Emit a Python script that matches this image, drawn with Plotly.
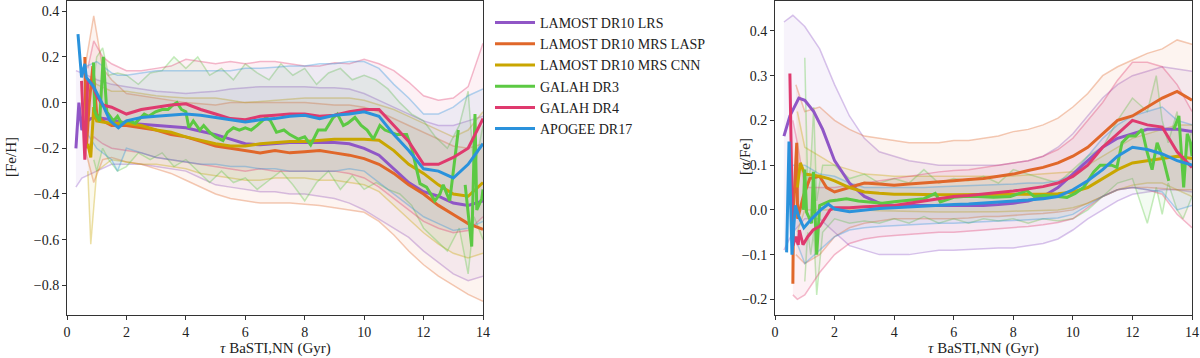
import plotly.graph_objects as go

# ---------------- data ----------------
AGE_GRID = [2.0, 2.5, 3.0, 3.5, 4.0, 4.5, 5.0, 5.5, 6.0, 6.5, 7.0, 7.5, 8.0, 8.5,
            9.0, 9.5, 10.0, 10.5, 11.0, 11.5, 12.0, 12.5, 13.0, 13.5, 14.0]

SURVEYS = ["LAMOST DR10 LRS", "LAMOST DR10 MRS LASP", "LAMOST DR10 MRS CNN",
           "GALAH DR3", "GALAH DR4", "APOGEE DR17"]
COLORS = ["#9056c6", "#e0672a", "#c9a600", "#5cc943", "#df3a6e", "#2a92dc"]

# ---- [Fe/H] panel ----
# LAMOST DR10 LRS
feh_lrs_x = [0.3, 0.4, 0.5, 0.6, 0.8, 1.0, 1.5] + AGE_GRID
feh_lrs_med = [-0.2, 0.0, -0.12, -0.09, -0.07, -0.065, -0.075,
               -0.09, -0.095, -0.1, -0.105, -0.11, -0.125, -0.14, -0.16, -0.18, -0.185, -0.18, -0.175, -0.175,
               -0.175, -0.175, -0.18, -0.2, -0.23, -0.29, -0.35, -0.39, -0.41, -0.44, -0.45, -0.43]
feh_lrs_bx = [0.3, 0.5, 1.0, 1.5] + AGE_GRID
feh_lrs_hi = [0.14, 0.13, 0.1, 0.08,
              0.07, 0.06, 0.05, 0.045, 0.04, 0.045, 0.05, 0.06, 0.065, 0.07, 0.07, 0.07, 0.07, 0.065,
              0.065, 0.06, 0.04, 0.01, -0.02, -0.05, -0.08, -0.1, -0.1, -0.08, -0.06]
feh_lrs_lo = [-0.37, -0.33, -0.3, -0.27,
              -0.27, -0.27, -0.28, -0.29, -0.3, -0.33, -0.36, -0.37, -0.38, -0.39, -0.39, -0.4, -0.4, -0.41,
              -0.42, -0.44, -0.47, -0.51, -0.55, -0.59, -0.65, -0.7, -0.75, -0.78, -0.76]

# LAMOST DR10 MRS LASP
feh_lasp_x = [0.6, 0.65, 0.75, 0.87, 1.0, 1.2, 1.5] + AGE_GRID
feh_lasp_med = [0.2, -0.2, 0.0, 0.16, -0.05, -0.08, -0.1,
                -0.1, -0.11, -0.12, -0.14, -0.15, -0.17, -0.19, -0.2, -0.21, -0.22, -0.21, -0.22, -0.215,
                -0.21, -0.22, -0.23, -0.245, -0.27, -0.31, -0.36, -0.4, -0.45, -0.49, -0.53, -0.555]
feh_lasp_bx = [0.6, 0.9, 1.2, 1.5] + AGE_GRID
feh_lasp_hi = [0.15, 0.38, 0.15, 0.1,
               0.04, 0.03, 0.02, 0.01, 0.0, -0.005, -0.01, 0.0, 0.0, 0.0, 0.0, 0.0, 0.0, -0.005,
               -0.01, -0.01, -0.02, -0.04, -0.07, -0.1, -0.13, -0.16, -0.19, -0.2, -0.18]
feh_lasp_lo = [-0.2, -0.35, -0.25, -0.24,
               -0.26, -0.27, -0.29, -0.31, -0.34, -0.37, -0.4, -0.42, -0.43, -0.44, -0.44, -0.44, -0.445, -0.45,
               -0.46, -0.47, -0.48, -0.52, -0.58, -0.65, -0.71, -0.76, -0.8, -0.84, -0.87]

# LAMOST DR10 MRS CNN
feh_cnn_x = [0.7, 0.8, 0.9, 1.0, 1.2, 1.5] + AGE_GRID
feh_cnn_med = [-0.18, -0.24, -0.02, -0.08, -0.085, -0.09,
               -0.09, -0.1, -0.12, -0.13, -0.15, -0.165, -0.18, -0.19, -0.19, -0.18, -0.175, -0.17, -0.17,
               -0.165, -0.16, -0.16, -0.16, -0.165, -0.21, -0.27, -0.31, -0.36, -0.4, -0.41, -0.35]
feh_cnn_bx = [0.7, 0.8, 1.0, 1.5] + AGE_GRID
feh_cnn_hi = [0.05, 0.1, 0.08, 0.05,
              0.05, 0.04, 0.03, 0.025, 0.02, 0.02, 0.02, 0.01, 0.0, 0.005, 0.01, 0.015, 0.02, 0.02,
              0.02, 0.02, 0.01, -0.01, -0.03, -0.06, -0.09, -0.12, -0.15, -0.12, -0.04]
feh_cnn_lo = [-0.3, -0.62, -0.3, -0.25,
              -0.26, -0.27, -0.27, -0.28, -0.29, -0.31, -0.32, -0.33, -0.34, -0.34, -0.33, -0.33, -0.33, -0.34,
              -0.34, -0.35, -0.36, -0.39, -0.45, -0.51, -0.57, -0.62, -0.66, -0.68, -0.66]

# GALAH DR3
feh_dr3_x = [0.89, 0.93, 1.0, 1.1, 1.22, 1.34, 1.56, 1.7, 1.83, 2.06, 2.3, 2.6, 2.75, 2.98, 3.2, 3.4,
             3.57, 3.7, 3.85, 4.0, 4.1, 4.25, 4.47, 4.6, 4.8, 5.0, 5.25, 5.4, 5.6, 5.8, 6.0, 6.2, 6.4,
             6.7, 6.85, 7.05, 7.3, 7.5, 7.78, 8.0, 8.2, 8.45, 8.7, 8.96, 9.1, 9.3, 9.45, 9.69, 9.9,
             10.1, 10.31, 10.53, 10.7, 10.87, 11.1, 11.43, 11.6, 11.88, 12.1, 12.38, 12.55, 12.66,
             12.88, 13.17, 13.2, 13.4, 13.62, 13.73, 13.79, 13.96, 14.0]
feh_dr3_med = [0.176, -0.035, -0.06, -0.08, 0.2, -0.04, -0.08, -0.06, -0.09, -0.08, -0.09, -0.05, -0.06,
               -0.04, -0.03, -0.03, -0.01, 0.0, -0.03, -0.04, -0.11, -0.08, -0.12, -0.1, -0.13, -0.15,
               -0.166, -0.13, -0.11, -0.12, -0.11, -0.12, -0.1, -0.065, -0.08, -0.13, -0.12, -0.14,
               -0.16, -0.15, -0.185, -0.12, -0.12, -0.065, -0.05, -0.1, -0.09, -0.065, -0.1, -0.12,
               -0.16, -0.1, -0.12, -0.13, -0.14, -0.14, -0.2, -0.355, -0.37, -0.43, -0.4, -0.36,
               -0.43, -0.12, None, -0.36, -0.63, -0.05, -0.47, -0.42, -0.38]
feh_dr3_bx = [0.9, 1.0, 1.2, 1.4, 1.7, 2.0, 2.4, 2.8, 3.2, 3.6, 4.0, 4.4, 4.8, 5.2, 5.6, 6.0, 6.4,
              6.8, 7.2, 7.6, 8.0, 8.4, 8.8, 9.2, 9.6, 10.0, 10.4, 10.8, 11.2, 11.6, 12.0, 12.4, 12.8,
              13.2, 13.5, 13.7, 14.0]
feh_dr3_hi = [0.1, 0.2, 0.24, 0.12, 0.13, 0.12, 0.08, 0.13, 0.14, 0.2, 0.15, 0.2, 0.12, 0.15, 0.1,
              0.17, 0.13, 0.1, 0.17, 0.12, 0.15, 0.08, 0.13, 0.15, 0.1, 0.12, 0.1, 0.06, 0.0, -0.05,
              -0.08, -0.15, -0.2, -0.1, 0.05, -0.3, -0.1]
feh_dr3_lo = [-0.25, -0.3, -0.2, -0.25, -0.3, -0.28, -0.22, -0.25, -0.22, -0.28, -0.25, -0.3, -0.35,
              -0.3, -0.35, -0.33, -0.38, -0.34, -0.3, -0.36, -0.43, -0.35, -0.3, -0.38, -0.32, -0.38,
              -0.35, -0.38, -0.4, -0.45, -0.55, -0.6, -0.65, -0.55, -0.75, -0.5, -0.6]

# GALAH DR4
feh_dr4_x = [0.49, 0.6, 0.7, 0.85, 1.0, 1.2, 1.5] + AGE_GRID
feh_dr4_med = [0.095, -0.25, 0.1, 0.08, 0.03, -0.01, -0.02,
               -0.05, -0.03, -0.02, -0.01, -0.005, -0.03, -0.05, -0.07, -0.075, -0.06, -0.055, -0.05,
               -0.05, -0.06, -0.055, -0.04, -0.03, -0.03, -0.1, -0.17, -0.27, -0.27, -0.24, -0.2, -0.07]
feh_dr4_bx = [0.7, 0.9, 1.2, 1.5] + AGE_GRID
feh_dr4_hi = [0.15, 0.27, 0.2, 0.17,
              0.14, 0.14, 0.15, 0.16, 0.19, 0.18, 0.17, 0.18, 0.17, 0.18, 0.18, 0.17, 0.16, 0.16,
              0.175, 0.17, 0.19, 0.17, 0.14, 0.09, 0.03, 0.01, 0.02, 0.07, 0.26]
feh_dr4_lo = [-0.2, -0.15, -0.18, -0.2,
              -0.21, -0.22, -0.24, -0.25, -0.26, -0.27, -0.28, -0.29, -0.3, -0.29, -0.3, -0.3, -0.3,
              -0.3, -0.3, -0.31, -0.33, -0.37, -0.42, -0.47, -0.52, -0.55, -0.57, -0.56, -0.5]

# APOGEE DR17
feh_apo_x = [0.37, 0.49, 0.6, 0.65, 0.89, 1.17, 1.45, 1.73] + AGE_GRID
feh_apo_med = [0.3, 0.11, 0.17, 0.11, 0.07, 0.0, -0.08, -0.11,
               -0.08, -0.065, -0.06, -0.055, -0.05, -0.055, -0.065, -0.075, -0.085, -0.075, -0.07, -0.06,
               -0.055, -0.07, -0.055, -0.05, -0.04, -0.06, -0.14, -0.21, -0.29, -0.3, -0.33, -0.27, -0.18]
feh_apo_bx = [0.5, 1.0, 1.5, 1.7] + AGE_GRID
feh_apo_hi = [0.15, 0.18, 0.13, 0.12,
              0.12, 0.13, 0.14, 0.14, 0.14, 0.14, 0.14, 0.14, 0.15, 0.15, 0.155, 0.16, 0.16, 0.17,
              0.17, 0.18, 0.18, 0.15, 0.08, 0.02, -0.05, -0.05, -0.02, 0.03, 0.06]
feh_apo_lo = [-0.1, -0.2, -0.25, -0.3,
              -0.2, -0.22, -0.24, -0.25, -0.26, -0.27, -0.27, -0.28, -0.28, -0.29, -0.29, -0.3, -0.3,
              -0.3, -0.3, -0.29, -0.3, -0.35, -0.4, -0.45, -0.5, -0.53, -0.56, -0.55, -0.52]

# ---- [alpha/Fe] panel ----
afe_lrs_x = [0.3, 0.5, 0.8, 1.0, 1.3, 1.6] + AGE_GRID
afe_lrs_med = [0.165, 0.21, 0.25, 0.245, 0.22, 0.18,
               0.11, 0.06, 0.03, 0.015, 0.01, 0.01, 0.01, 0.01, 0.01, 0.01, 0.01, 0.012, 0.015, 0.02,
               0.03, 0.05, 0.08, 0.11, 0.14, 0.16, 0.17, 0.18, 0.18, 0.18, 0.175]
afe_lrs_bx = [0.3, 0.6, 1.0, 1.5] + AGE_GRID
afe_lrs_hi = [0.42, 0.435, 0.41, 0.36,
              0.28, 0.21, 0.16, 0.13, 0.12, 0.11, 0.105, 0.1, 0.1, 0.1, 0.1, 0.1, 0.105, 0.11, 0.12,
              0.14, 0.17, 0.21, 0.25, 0.28, 0.3, 0.31, 0.32, 0.315, 0.31]
afe_lrs_lo = [-0.09, -0.05, -0.02, -0.02,
              -0.05, -0.08, -0.09, -0.1, -0.1, -0.1, -0.095, -0.09, -0.09, -0.088, -0.087, -0.085,
              -0.085, -0.08, -0.075, -0.065, -0.045, -0.02, 0.0, 0.02, 0.035, 0.04, 0.045, 0.045, 0.04]

afe_lasp_x = [0.6, 0.62, 0.73, 0.76, 0.95, 1.17, 1.5, 1.73] + AGE_GRID
afe_lasp_med = [-0.165, 0.0, 0.15, -0.02, 0.03, 0.07, 0.075, 0.05,
                0.04, 0.05, 0.06, 0.058, 0.055, 0.058, 0.06, 0.063, 0.065, 0.068, 0.07, 0.075, 0.08,
                0.088, 0.095, 0.105, 0.12, 0.14, 0.17, 0.2, 0.21, 0.23, 0.25, 0.265, 0.245]
afe_lasp_bx = [0.7, 1.0, 1.5] + AGE_GRID
afe_lasp_hi = [0.28, 0.22, 0.23,
               0.2, 0.18, 0.165, 0.16, 0.155, 0.15, 0.15, 0.15, 0.155, 0.155, 0.16, 0.165, 0.175, 0.18,
               0.19, 0.205, 0.23, 0.26, 0.3, 0.32, 0.335, 0.35, 0.36, 0.38, 0.37]
afe_lasp_lo = [-0.1, -0.12, -0.1,
               -0.06, -0.04, -0.03, -0.025, -0.02, -0.02, -0.02, -0.02, -0.02, -0.018, -0.015, -0.015,
               -0.012, -0.01, -0.008, -0.005, 0.0, 0.015, 0.03, 0.045, 0.05, 0.05, 0.048, 0.045, 0.045]

afe_cnn_x = [0.75, 0.85, 1.0, 1.2, 1.5, 1.8] + AGE_GRID
afe_cnn_med = [0.05, 0.105, 0.08, 0.078, 0.075, 0.07,
               0.065, 0.05, 0.04, 0.037, 0.035, 0.035, 0.034, 0.034, 0.034, 0.034, 0.034, 0.035, 0.035,
               0.035, 0.035, 0.036, 0.04, 0.05, 0.07, 0.09, 0.105, 0.11, 0.115, 0.12, 0.115]
afe_cnn_bx = [0.75, 1.0, 1.5] + AGE_GRID
afe_cnn_hi = [0.22, 0.14, 0.12,
              0.1, 0.09, 0.08, 0.078, 0.075, 0.075, 0.075, 0.074, 0.074, 0.074, 0.075, 0.075, 0.076,
              0.078, 0.08, 0.082, 0.085, 0.1, 0.12, 0.14, 0.16, 0.17, 0.18, 0.19, 0.19]
afe_cnn_lo = [-0.05, 0.0, 0.0,
              0.0, 0.0, 0.0, -0.002, -0.003, -0.004, -0.005, -0.005, -0.005, -0.005, -0.005, -0.004,
              -0.003, -0.002, 0.0, 0.0, 0.005, 0.015, 0.03, 0.045, 0.055, 0.06, 0.06, 0.045, 0.03]

afe_dr3_x = [0.95, 1.0, 1.06, 1.23, 1.29, 1.4, 1.5, 1.85, 2.1, 2.4, 2.8, 3.2, 3.6, 4.0, 4.54, 5.0,
             5.38, 5.55, 6.0, 6.33, 6.8, 7.34, 7.9, 8.46, 8.7, 9.02, 9.5, 9.8, 10.08, 10.36, 10.7,
             10.92, 11.3, 11.48, 11.65, 11.87, 12.1, 12.32, 12.49, 12.66, 12.83, 13.05, 13.22, 13.3,
             13.39, 13.56, 13.72, 13.84, 13.95, 14.0]
afe_dr3_med = [0.0, 0.09, -0.005, -0.03, 0.085, -0.1, 0.01, 0.02, 0.022, 0.025, 0.02, 0.018, 0.015,
               0.018, 0.022, 0.025, 0.037, 0.018, 0.028, 0.03, 0.03, 0.028, 0.03, 0.043, 0.03, 0.032,
               0.03, 0.028, 0.037, 0.05, 0.085, 0.1, 0.1, 0.095, 0.15, 0.165, 0.165, 0.18, 0.13, 0.09,
               0.15, 0.11, 0.065, None, 0.18, 0.21, 0.05, 0.17, 0.15, 0.12]
afe_dr3_bx = [1.0, 1.1, 1.2, 1.3, 1.4, 1.6, 2.0, 2.5, 3.0, 3.5, 4.0, 4.5, 5.0, 5.5, 6.0, 6.5, 7.0,
              7.5, 8.0, 8.5, 9.0, 9.5, 10.0, 10.5, 11.0, 11.5, 12.0, 12.5, 12.8, 13.0, 13.2, 13.5,
              13.7, 14.0]
afe_dr3_hi = [0.34, 0.05, 0.1, 0.23, 0.02, 0.1, 0.1, 0.07, 0.08, 0.06, 0.07, 0.06, 0.09, 0.06, 0.07,
              0.065, 0.075, 0.06, 0.09, 0.08, 0.07, 0.06, 0.09, 0.12, 0.14, 0.2, 0.25, 0.22, 0.3, 0.2,
              0.15, 0.22, 0.1, 0.18]
afe_dr3_lo = [-0.16, -0.05, -0.1, -0.05, -0.19, -0.05, -0.02, -0.03, -0.025, -0.03, -0.02, -0.03,
              -0.015, -0.03, -0.02, -0.03, -0.02, -0.025, -0.02, -0.03, -0.02, -0.025, -0.02, 0.0,
              0.03, 0.06, 0.07, -0.03, 0.05, -0.01, 0.06, 0.0, -0.02, 0.03]

afe_dr4_x = [0.5, 0.6, 0.7, 0.78, 0.82, 0.94, 1.1, 1.28, 1.5, 1.85] + AGE_GRID
afe_dr4_med = [0.305, -0.08, -0.06, -0.078, -0.045, -0.078, -0.06, -0.045, -0.037, 0.0,
               0.005, 0.005, 0.007, 0.008, 0.01, 0.015, 0.02, 0.025, 0.03, 0.032, 0.035, 0.038, 0.042,
               0.047, 0.052, 0.06, 0.075, 0.1, 0.14, 0.17, 0.2, 0.19, 0.185, 0.13, 0.095]
afe_dr4_bx = [0.6, 0.75, 1.0, 1.5] + AGE_GRID
afe_dr4_hi = [0.2, 0.15, 0.05, 0.05,
              0.05, 0.055, 0.06, 0.065, 0.07, 0.075, 0.08, 0.085, 0.088, 0.09, 0.095, 0.1, 0.105,
              0.11, 0.12, 0.135, 0.16, 0.2, 0.24, 0.29, 0.33, 0.33, 0.32, 0.28, 0.22]
afe_dr4_lo = [-0.19, -0.2, -0.19, -0.14,
              -0.1, -0.075, -0.065, -0.06, -0.057, -0.055, -0.053, -0.05, -0.05, -0.048, -0.045,
              -0.042, -0.04, -0.037, -0.033, -0.028, -0.02, 0.005, 0.03, 0.045, 0.05, 0.045, 0.035,
              -0.01, -0.04]

afe_apo_x = [0.39, 0.47, 0.57, 0.68, 0.8, 0.97, 1.23, 1.57, 1.79] + AGE_GRID
afe_apo_med = [-0.095, 0.153, -0.1, 0.01, -0.015, -0.04, -0.02, 0.002, 0.013,
               0.002, -0.004, 0.0, 0.003, 0.005, 0.007, 0.009, 0.01, 0.012, 0.013, 0.015, 0.017, 0.02,
               0.022, 0.025, 0.03, 0.045, 0.065, 0.09, 0.12, 0.14, 0.135, 0.125, 0.11, 0.1]
afe_apo_bx = [0.6, 1.0, 1.5] + AGE_GRID
afe_apo_hi = [0.1, 0.1, 0.08,
              0.075, 0.06, 0.05, 0.05, 0.05, 0.05, 0.05, 0.052, 0.053, 0.055, 0.055, 0.057, 0.058,
              0.06, 0.06, 0.065, 0.08, 0.12, 0.16, 0.19, 0.21, 0.22, 0.23, 0.2, 0.19]
afe_apo_lo = [-0.05, -0.12, -0.09,
              -0.06, -0.045, -0.04, -0.037, -0.035, -0.033, -0.032, -0.03, -0.03, -0.028, -0.027,
              -0.025, -0.024, -0.022, -0.02, -0.018, -0.01, 0.01, 0.03, 0.045, 0.05, 0.045, 0.04,
              0.0, 0.01]

FEH = [
    (feh_lrs_x, feh_lrs_med, feh_lrs_bx, feh_lrs_lo, feh_lrs_hi),
    (feh_lasp_x, feh_lasp_med, feh_lasp_bx, feh_lasp_lo, feh_lasp_hi),
    (feh_cnn_x, feh_cnn_med, feh_cnn_bx, feh_cnn_lo, feh_cnn_hi),
    (feh_dr3_x, feh_dr3_med, feh_dr3_bx, feh_dr3_lo, feh_dr3_hi),
    (feh_dr4_x, feh_dr4_med, feh_dr4_bx, feh_dr4_lo, feh_dr4_hi),
    (feh_apo_x, feh_apo_med, feh_apo_bx, feh_apo_lo, feh_apo_hi),
]
AFE = [
    (afe_lrs_x, afe_lrs_med, afe_lrs_bx, afe_lrs_lo, afe_lrs_hi),
    (afe_lasp_x, afe_lasp_med, afe_lasp_bx, afe_lasp_lo, afe_lasp_hi),
    (afe_cnn_x, afe_cnn_med, afe_cnn_bx, afe_cnn_lo, afe_cnn_hi),
    (afe_dr3_x, afe_dr3_med, afe_dr3_bx, afe_dr3_lo, afe_dr3_hi),
    (afe_dr4_x, afe_dr4_med, afe_dr4_bx, afe_dr4_lo, afe_dr4_hi),
    (afe_apo_x, afe_apo_med, afe_apo_bx, afe_apo_lo, afe_apo_hi),
]

X_TICKS = [0, 2, 4, 6, 8, 10, 12, 14]
FEH_TICKS = [-0.8, -0.6, -0.4, -0.2, 0.0, 0.2, 0.4]
AFE_TICKS = [-0.2, -0.1, 0.0, 0.1, 0.2, 0.3, 0.4]

# ---------------- figure ----------------
FONT = "Liberation Serif"
TXT = "#222222"


def rgba(hexc, a):
    h = hexc.lstrip("#")
    r, g, b = int(h[0:2], 16), int(h[2:4], 16), int(h[4:6], 16)
    return f"rgba({r},{g},{b},{a})"


fig = go.Figure()

for panel, (xa, ya) in ((FEH, ("x", "y")), (AFE, ("x2", "y2"))):
    # percentile bands first
    for (mx, my, bx, lo, hi), col in zip(panel, COLORS):
        fig.add_trace(go.Scatter(x=bx, y=lo, mode="lines", xaxis=xa, yaxis=ya,
                                 line=dict(color=rgba(col, 0.35), width=1.5),
                                 showlegend=False, hoverinfo="skip"))
        fig.add_trace(go.Scatter(x=bx, y=hi, mode="lines", xaxis=xa, yaxis=ya,
                                 line=dict(color=rgba(col, 0.35), width=1.5),
                                 fill="tonexty", fillcolor=rgba(col, 0.07),
                                 showlegend=False, hoverinfo="skip"))
for panel, (xa, ya), show in ((FEH, ("x", "y"), True), (AFE, ("x2", "y2"), False)):
    for (mx, my, bx, lo, hi), col, name in zip(panel, COLORS, SURVEYS):
        fig.add_trace(go.Scatter(x=mx, y=my, mode="lines", xaxis=xa, yaxis=ya, name=name,
                                 line=dict(color=col, width=3), connectgaps=False,
                                 showlegend=show))

axis_common = dict(showline=True, linecolor="#333333", linewidth=1, mirror=True,
                   ticks="outside", ticklen=4, tickcolor="#333333", showgrid=False,
                   zeroline=False, automargin=False,
                   tickfont=dict(family=FONT, size=14, color=TXT))

fig.update_layout(
    width=1200, height=358,
    margin=dict(l=0, r=0, t=0, b=0, pad=0),
    paper_bgcolor="white", plot_bgcolor="white",
    font=dict(family=FONT, size=14, color=TXT),
    xaxis=dict(domain=[67 / 1200, 483 / 1200], range=[0, 14], tickvals=X_TICKS, **axis_common),
    yaxis=dict(domain=[43 / 358, 357 / 358], range=[-0.93, 0.445], tickvals=FEH_TICKS,
               tickformat=".1f", **axis_common),
    xaxis2=dict(domain=[775 / 1200, 1192 / 1200], range=[0, 14], tickvals=X_TICKS, anchor="y2",
                **axis_common),
    yaxis2=dict(domain=[43 / 358, 357 / 358], range=[-0.235, 0.467], tickvals=AFE_TICKS,
                tickformat=".1f", anchor="x2", **axis_common),
    legend=dict(x=490 / 1200, y=1 - 7 / 358, xanchor="left", yanchor="top",
                traceorder="normal", itemwidth=40,
                bgcolor="rgba(0,0,0,0)", font=dict(family=FONT, size=14, color=TXT),
                tracegroupgap=0),
    showlegend=True,
)

ann_font = dict(family=FONT, size=15, color=TXT)
fig.add_annotation(text="[Fe/H]", xref="paper", yref="paper", x=11 / 1200, y=1 - 157 / 358,
                   xanchor="center", yanchor="middle", textangle=-90, showarrow=False,
                   font=ann_font)
fig.add_annotation(text="[α/Fe]", xref="paper", yref="paper", x=745 / 1200, y=1 - 157 / 358,
                   xanchor="center", yanchor="middle", textangle=-90, showarrow=False,
                   font=ann_font)
fig.add_annotation(text="<i>τ</i> BaSTI,NN (Gyr)", xref="paper", yref="paper", x=275 / 1200,
                   y=1 - 348 / 358, xanchor="center", yanchor="middle", showarrow=False,
                   font=ann_font)
fig.add_annotation(text="<i>τ</i> BaSTI,NN (Gyr)", xref="paper", yref="paper", x=983 / 1200,
                   y=1 - 348 / 358, xanchor="center", yanchor="middle", showarrow=False,
                   font=ann_font)

fig.write_html("out.html", config={"displayModeBar": False},
               post_script="document.body.style.margin='0';document.body.style.overflow='hidden';")
